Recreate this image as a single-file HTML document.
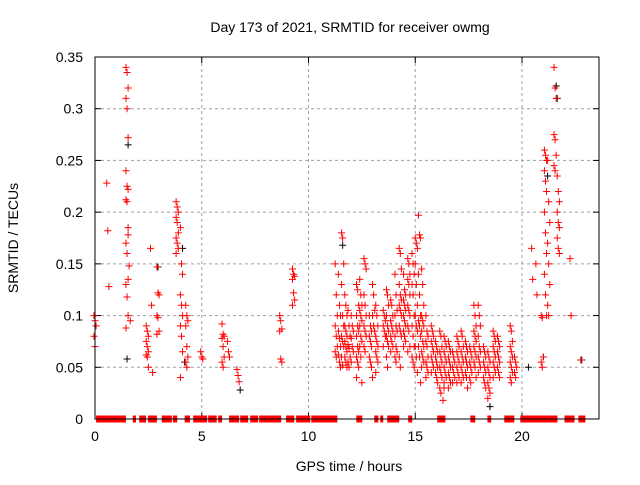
<!DOCTYPE html>
<html><head><meta charset="utf-8"><style>
body{margin:0;background:#fff}
svg text{font-family:"Liberation Sans",sans-serif;font-size:14px;fill:#000}
</style></head><body>
<svg id="chart" width="640" height="480" viewBox="0 0 640 480">
<rect width="640" height="480" fill="#fff"/>
<text x="350" y="32" text-anchor="middle">Day 173 of 2021, SRMTID for receiver owmg</text>
<text x="349" y="471" text-anchor="middle">GPS time / hours</text>
<text transform="translate(18,238) rotate(-90)" text-anchor="middle">SRMTID / TECUs</text>
<g id="grid"></g><g id="ticks"></g><g id="marks"></g>
<rect x="95" y="57" width="504" height="362" fill="none" stroke="#000" stroke-width="1"/>
</svg>
<script>
const xTicks=[0,5,10,15,20];
const yTicks=[0,0.05,0.1,0.15,0.2,0.25,0.3,0.35];
const yTickLabels=["0","0.05","0.1","0.15","0.2","0.25","0.3","0.35"];
const redCols=[
[0.0,[.1,.095,.09,.08,.07]],
[0.6,[.228,.182,.128]],
[1.5,[.34,.335,.32,.31,.3,.272,.24,.225,.222,.212,.21,.185,.17,.16,.135,.13,.118,.1,.088]],
[1.6,[.178,.148,.095]],
[2.45,[.09,.085,.08,.075,.07,.065,.062,.06,.05]],
[2.65,[.165,.11,.045]],
[2.95,[.147,.122,.12,.1,.098,.085,.082]],
[3.85,[.21,.205,.2,.195,.19,.18,.175,.17,.165,.16]],
[4.05,[.185,.15,.14,.12,.11,.1,.09,.08,.065,.04]],
[4.3,[.11,.1,.095,.09,.07,.06,.055,.05]],
[5.0,[.065,.06,.058]],
[6.0,[.092,.082,.08,.078,.07,.06,.055,.05]],
[6.25,[.075,.065,.06]],
[6.7,[.048,.042,.036]],
[8.7,[.1,.095,.087,.085,.058,.055]],
[9.3,[.145,.14,.138,.135,.122,.115,.11]],
[11.3,[.15,.12,.1,.09,.08,.07,.065,.06]],
[11.45,[.14,.11,.1,.085,.078,.07,.062,.055,.05]],
[11.6,[.18,.175,.15,.13,.1,.09,.08,.075,.07,.06,.052]],
[11.75,[.12,.11,.1,.09,.085,.08,.075,.07,.065,.06,.055,.05]],
[11.9,[.105,.09,.08,.072,.068,.06,.055,.05]],
[12.05,[.1,.09,.085,.078,.07,.065,.055]],
[12.3,[.13,.125,.11,.1,.09,.085,.08,.07,.065,.06,.055,.05,.04]],
[12.45,[.135,.12,.11,.105,.1,.095,.09,.08,.075,.07,.06,.035]],
[12.65,[.155,.15,.145,.12,.11,.1,.09,.085,.08,.07,.065]],
[12.9,[.1,.09,.085,.08,.075,.07,.06,.055,.05]],
[13.05,[.13,.12,.105,.1,.09,.085,.04]],
[13.2,[.11,.1,.09,.08,.075,.07,.065,.06,.055,.045]],
[13.55,[.105,.1,.095,.09,.085,.08,.07]],
[13.7,[.125,.12,.11,.1,.09,.085,.08,.075,.07,.06,.05]],
[13.9,[.115,.11,.1,.095,.09,.085,.08,.075,.07,.065]],
[14.1,[.14,.12,.105,.1,.09,.085,.08,.07,.065,.06,.055]],
[14.3,[.165,.16,.145,.13,.12,.115,.11,.105,.1,.09,.085,.08,.06,.05]],
[14.5,[.14,.125,.12,.115,.11,.105,.1,.095,.09,.085,.08,.075,.07]],
[14.7,[.155,.15,.14,.135,.13,.12,.11,.105,.1,.09,.085,.07,.065]],
[14.9,[.16,.15,.14,.13,.12,.1,.09,.08,.07,.06,.055,.05]],
[15.05,[.175,.17,.165,.15,.13,.11,.1,.09,.085,.07,.06,.045]],
[15.2,[.197,.178,.175,.14,.12,.1,.095,.09,.08,.07,.06,.035]],
[15.35,[.145,.13,.11,.1,.095,.09,.085,.075,.07,.065,.06,.055,.05]],
[15.55,[.1,.085,.08,.075,.07,.06,.055,.05,.045,.04]],
[15.8,[.09,.085,.08,.075,.07,.065,.06,.055,.05,.045]],
[16.0,[.075,.07,.065,.06,.055,.05,.045,.04,.035]],
[16.2,[.085,.08,.07,.065,.06,.055,.05,.045,.04,.03,.025]],
[16.35,[.018,.03]],
[16.4,[.08,.075,.07,.065,.06,.055,.05,.045,.04,.035]],
[16.6,[.075,.07,.065,.06,.055,.05,.045,.04,.035,.03]],
[16.8,[.065,.06,.055,.05,.045,.04,.035]],
[17.0,[.08,.075,.07,.065,.06,.055,.05,.045,.04,.035]],
[17.2,[.085,.08,.07,.065,.06,.055,.05,.045,.04,.035]],
[17.4,[.075,.07,.065,.06,.055,.05,.045,.04,.03]],
[17.6,[.07,.065,.06,.055,.05,.045,.04,.035]],
[17.8,[.11,.1,.09,.085,.08,.075,.07,.065,.06,.055,.05,.04]],
[18.0,[.11,.1,.09,.08,.07,.065,.06,.055,.05,.045]],
[18.25,[.07,.065,.06,.055,.05,.045,.04,.035,.03]],
[18.45,[.065,.06,.055,.05,.045,.04,.035,.03,.025,.02]],
[18.7,[.085,.08,.075,.07,.065,.06,.055,.05,.045,.04]],
[18.9,[.08,.075,.07,.065,.06,.055,.05,.045,.04]],
[19.5,[.09,.085,.075,.07,.065,.06,.055,.05,.045,.04,.035]],
[19.7,[.06,.055,.05,.045,.04]],
[20.5,[.165,.135]],
[20.7,[.15,.12]],
[20.95,[.1,.098,.06,.055,.05]],
[21.1,[.26,.255,.25,.24,.23,.22,.2,.18,.16,.14,.12,.1]],
[21.25,[.25,.21,.19,.17,.15,.13,.11,.1]],
[21.55,[.34,.32,.31,.275,.27,.255,.245,.24]],
[21.7,[.235,.22,.21,.2,.19,.185,.175,.165,.16]],
[22.3,[.155,.1]],
[22.8,[.057]]];
const blackPts=[[1.55,.265],[1.5,.058],[2.95,.147],[4.1,.165],[6.8,.028],[11.6,.168],[18.5,.012],[21.2,.235],[21.6,.322],[21.65,.31],[21.0,.06],[22.8,.057],[4.2,.055],[20.3,.05]];
const zeroRuns=[[0.05,1.45],[1.77,1.92],[2.07,2.39],[2.48,2.9],[3.13,3.6],[3.65,3.85],[4.2,4.45],[4.6,5.25],[5.3,5.7],[5.77,5.95],[6.28,6.75],[6.8,7.17],[7.27,7.64],[7.69,8.72],[8.95,9.33],[9.42,10.08],[10.13,11.35],[12.24,12.52],[13.08,13.27],[13.36,13.5],[13.69,14.25],[14.67,14.86],[16.03,16.41],[17.58,17.81],[18.38,18.56],[19.17,19.64],[19.92,21.66],[21.99,22.46],[22.64,22.97]];
const X0=95,X1=599,Y0=419,Y1=57,XPH=21.35;
const xs=h=>X0+h*XPH, ys=v=>Y0-v*(Y0-Y1)/0.35;
const NS="http://www.w3.org/2000/svg";
function mk(t,a,p){const e=document.createElementNS(NS,t);for(const k in a)e.setAttribute(k,a[k]);p.appendChild(e);return e;}
const grid=document.getElementById('grid'),ticks=document.getElementById('ticks'),marks=document.getElementById('marks');
xTicks.forEach(t=>{const x=xs(t);
 if(t>0){const g=mk('line',{x1:x,x2:x,y1:Y1,y2:Y0,stroke:'#a0a0a0','stroke-dasharray':'3,3'},grid);
 
 }
 mk('line',{x1:x,x2:x,y1:Y0,y2:Y0-6,stroke:'#000'},ticks);mk('line',{x1:x,x2:x,y1:Y1,y2:Y1+6,stroke:'#000'},ticks);
 const l=mk('text',{x:x,y:Y0+22,'text-anchor':'middle'},ticks);l.textContent=t;
 
 });
yTicks.forEach((t,i)=>{const y=ys(t);
 if(t>0&&t<0.35){const g=mk('line',{x1:X0,x2:X1,y1:y,y2:y,stroke:'#a0a0a0','stroke-dasharray':'3,3'},grid);
 
 }
 mk('line',{x1:X0,x2:X0+6,y1:y,y2:y,stroke:'#000'},ticks);mk('line',{x1:X1,x2:X1-6,y1:y,y2:y,stroke:'#000'},ticks);
 const l=mk('text',{x:X0-12,y:y+5,'text-anchor':'end'},ticks);l.textContent=yTickLabels[i];
 
 });
function cross(h,v,c,n){const x=xs(h),y=ys(v);
 const p=mk('path',{d:`M${x-3.5},${y}h7M${x},${y-3.5}v7`,stroke:c,'stroke-width':1,fill:'none'},marks);
 
 }
blackPts.forEach(p=>cross(p[0],p[1],'#000','black-point'));
redCols.forEach(c=>c[1].forEach((v,i)=>cross(c[0]+(i%3-1)*0.05,v,'#f00','red-point')));
zeroRuns.forEach(r=>{const x=xs(r[0]),w=xs(r[1])-x;
 const b=mk('rect',{x:x,y:Y0-3.5,width:w,height:7,fill:'#f00'},marks);
 
 });
</script>
</body></html>
